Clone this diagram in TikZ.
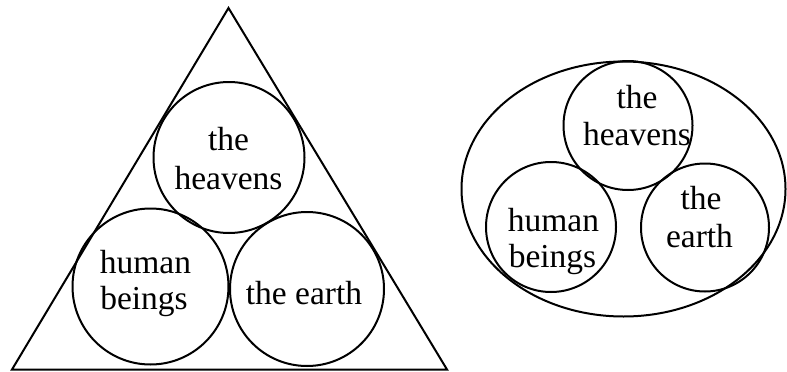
\documentclass[tikz,border=0pt]{standalone}
\usepackage{fontspec}
\setmainfont{Liberation Serif}
\begin{document}
\begin{tikzpicture}[x=1pt,y=-1pt,
  ring/.style={circle,draw,line width=2pt,inner sep=0pt},
  lbl/.style={inner sep=0pt,anchor=base,font=\fontsize{33.5}{38}\selectfont},
  shapeline/.style={draw,line width=2pt,line join=miter}]
\useasboundingbox (0,0) rectangle (787,372);
% left: triangle
\coordinate (apex) at (228.5,8);
\coordinate (bl) at (12,369.5);
\coordinate (br) at (447,369.5);
\path[shapeline] (apex) -- (bl) -- (br) -- cycle;
\node[ring,minimum size=151pt] (lheav) at (229,157.5) {};
\node[ring,minimum size=156pt] (lhum) at (150.5,286.5) {};
\node[ring,minimum size=154pt] (learth) at (307,289) {};
\node[lbl] (lheav1) at (228.5,150) {the};
\node[lbl] (lheav2) at (228.5,189.3) {heavens};
\node[lbl] (lhum1) at (145.5,273.3) {human};
\node[lbl] (lhum2) at (144,309.8) {beings};
\node[lbl] (learth1) at (304,304) {the earth};
% right: ellipse
\draw[line width=2pt] (623.5,189) ellipse [x radius=162, y radius=127.5];
\node[ring,minimum size=129pt] (rheav) at (628,125.5) {};
\node[ring,minimum size=130pt] (rhum) at (551,227) {};
\node[ring,minimum size=128pt] (rearth) at (705,227.5) {};
\node[lbl] (rheav1) at (637,108) {the};
\node[lbl] (rheav2) at (637,145.7) {heavens};
\node[lbl] (rhum1) at (553.5,231.7) {human};
\node[lbl] (rhum2) at (552.5,267) {beings};
\node[lbl] (rearth1) at (701,209) {the};
\node[lbl] (rearth2) at (699.5,247.7) {earth};
\end{tikzpicture}
\end{document}
